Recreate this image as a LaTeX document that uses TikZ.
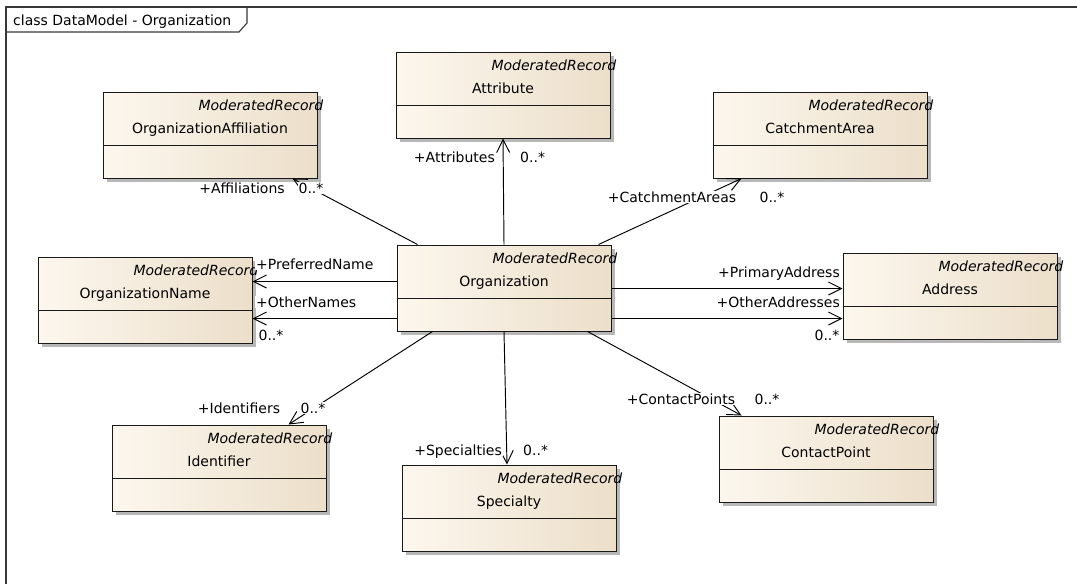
\documentclass[tikz,border=0pt]{standalone}
\usepackage{fontspec}
\setmainfont{DejaVu Sans}
\usetikzlibrary{arrows.meta,shadows,calc}
\definecolor{boxL}{RGB}{252,247,238}
\definecolor{boxR}{RGB}{236,223,202}
\definecolor{framecol}{RGB}{55,55,55}
\newcommand\umlcls[4]{%
  \node[cls] (#1) at (#2,#3) {};
  \draw[sepline] ([yshift=-54pt]#1.north west) -- ([yshift=-54pt]#1.north east);
  \node[stxt, anchor=east, font=\fontsize{14}{16}\selectfont\itshape] (#1-st) at ([xshift=6pt,yshift=-14pt]#1.north east) {ModeratedRecord};
  \node[stxt] (#1-nm) at ([yshift=-37pt]#1.north) {#4};
}
\begin{document}
\begin{tikzpicture}[x=1pt,y=-1pt,
  every node/.style={font=\fontsize{14}{16}\selectfont},
  cls/.style={draw=black!90, line width=1pt, rectangle, minimum width=214pt, minimum height=86pt,
    left color=boxL, right color=boxR,
    drop shadow={shadow xshift=4pt,shadow yshift=-4pt,fill=black!28,opacity=1}, inner sep=0pt},
  sepline/.style={draw=black!90, line width=1pt},
  lbl/.style={fill=white, inner sep=1pt, text height=10pt, text depth=0pt},
  stxt/.style={inner sep=0pt, text height=10pt, text depth=0pt},
  assoc/.style={draw=black, line width=0.95pt, -{Straight Barb[length=13pt,width=13pt,line width=0.95pt]}}
]
\useasboundingbox (0,0) rectangle (1077,584);
% frame
\draw[framecol, line width=1.4pt] (6,590) -- (6,7) -- (1085,7);
\draw[framecol, line width=1.1pt] (6,32) -- (239,32) -- (247,23) -- (247,7);
\node[anchor=west, inner sep=0pt, text height=10pt, text depth=0pt] (title) at (13,20) {class DataModel - Organization};

% classes
\umlcls{org}{504}{288}{Organization}
\umlcls{aff}{210}{135}{OrganizationAffiliation}
\umlcls{attr}{503}{95}{Attribute}
\umlcls{catch}{820}{135}{CatchmentArea}
\umlcls{oname}{145}{300}{OrganizationName}
\umlcls{addr}{950}{296}{Address}
\umlcls{ident}{219}{468}{Identifier}
\umlcls{spec}{509}{508}{Specialty}
\umlcls{cp}{826}{459}{ContactPoint}

% connectors
\draw[assoc] (org.north) -- (attr.south);
\draw[assoc] ([xshift=21pt]org.north west) -- ([xshift=-25pt]aff.south east);
\draw[assoc] ([xshift=-13pt]org.north east) -- ([xshift=29pt]catch.south west);
\coordinate (pn) at ([yshift=-37pt]org.north west);
\coordinate (on) at ([yshift=-74pt]org.north west);
\draw[assoc] (pn) -- (pn -| oname.east);
\draw[assoc] (on) -- (on -| oname.east);
\coordinate (pa) at ([yshift=-44pt]org.north east);
\coordinate (oa) at ([yshift=-74pt]org.north east);
\draw[assoc] (pa) -- (pa -| addr.west);
\draw[assoc] (oa) -- (oa -| addr.west);
\draw[assoc] ([xshift=36pt]org.south west) -- ([xshift=-38pt]ident.north east);
\draw[assoc] (org.south) -- ([xshift=-2pt]spec.north);
\draw[assoc] ([xshift=-24pt]org.south east) -- ([xshift=23pt]cp.north west);

% labels
\node[lbl, anchor=east] (l1) at (496,157) {+Attributes};
\node[lbl, anchor=west] (m1) at (519,157) {0..*};
\node[lbl] (l2) at (242,188) {+Affiliations};
\node[lbl] (m2) at (311,188) {0..*};
\node[lbl] (l3) at (672,197) {+CatchmentAreas};
\node[lbl] (m3) at (772,197) {0..*};
\node[lbl, anchor=west] (l4) at (255,264) {+PreferredName};
\node[lbl, anchor=west] (l5) at (255,302) {+OtherNames};
\node[lbl] (m5) at (271,335) {0..*};
\node[lbl, anchor=east] (l6) at (841,272) {+PrimaryAddress};
\node[lbl, anchor=east] (l7) at (841,302) {+OtherAddresses};
\node[lbl] (m7) at (827,335) {0..*};
\node[lbl] (l8) at (239,408) {+Identifiers};
\node[lbl] (m8) at (313,408) {0..*};
\node[lbl, anchor=east] (l9) at (503,450) {+Specialties};
\node[lbl, anchor=west] (m9) at (522,450) {0..*};
\node[lbl] (l10) at (681,399) {+ContactPoints};
\node[lbl] (m10) at (767,399) {0..*};
\end{tikzpicture}
\end{document}
